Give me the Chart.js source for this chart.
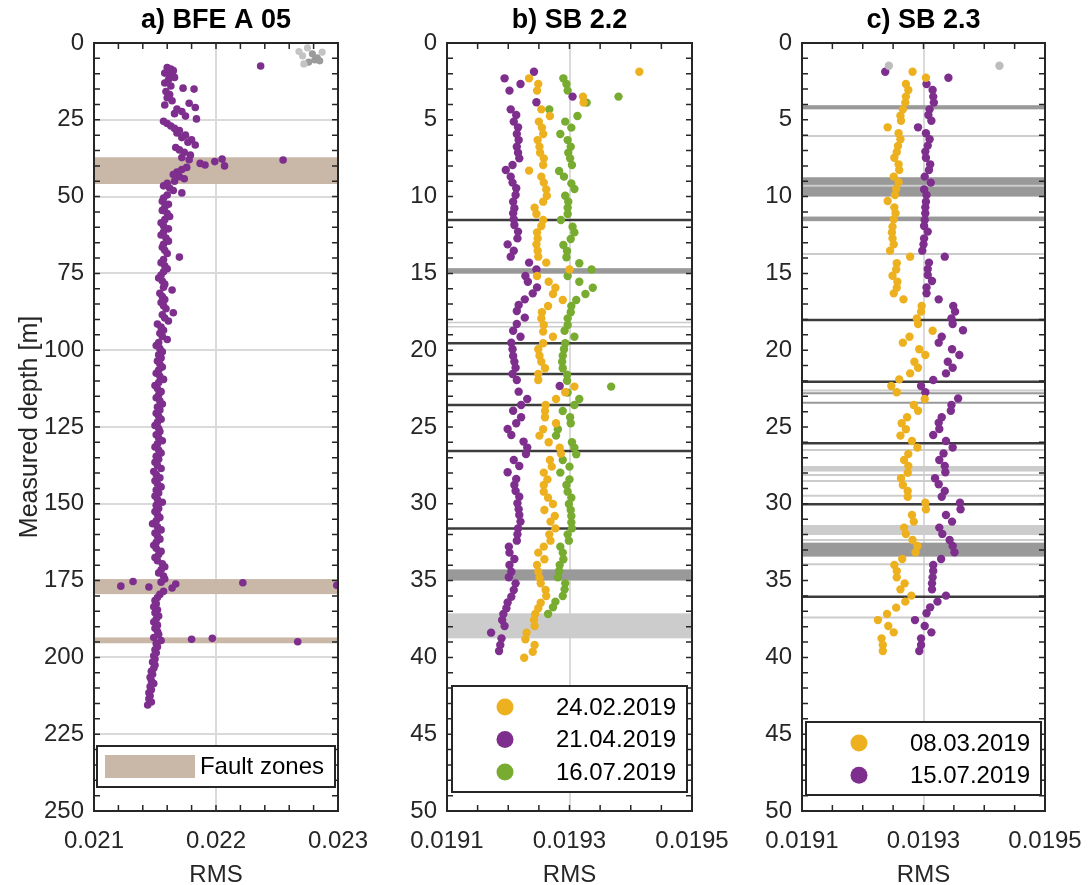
<!DOCTYPE html>
<html>
<head>
<meta charset="utf-8">
<title>RMS vs measured depth</title>
<script src="https://cdn.jsdelivr.net/npm/chart.js@4.4.1/dist/chart.umd.min.js"></script>
<style>
  html, body { margin: 0; padding: 0; background: #fff; }
  #wrap { position: relative; width: 1089px; height: 885px; }
  #wrap canvas { position: absolute; left: 0; top: 0; }
</style>
</head>
<body>
<div id="wrap">
  <canvas id="panelA" width="1089" height="885"></canvas>
  <canvas id="panelB" width="1089" height="885"></canvas>
  <canvas id="panelC" width="1089" height="885"></canvas>
</div>
<script>
// ---- data: [measured depth (m), RMS] ----
const bfeA05 = [
  [7.5,0.022366],[8.0,0.02160],[8.5,0.02163],[9.0,0.02165],[9.8,0.02158],[10.5,0.02162],[11.2,0.02166],[12.0,0.02161],
  [13.0,0.02158],[14.0,0.02163],[14.7,0.02173],[15.0,0.02182],[15.8,0.02159],[16.8,0.02162],[17.8,0.02160],[18.8,0.02164],
  [19.6,0.02178],[20.2,0.02158],[21.0,0.02183],[21.5,0.02168],[22.3,0.02172],[23.0,0.02166],[23.8,0.02175],[24.7,0.02184],
  [25.5,0.02157],[26.2,0.02160],[27.0,0.02163],[27.8,0.02166],[28.5,0.02170],[29.3,0.02168],[30.0,0.02175],[30.8,0.02172],
  [31.5,0.02180],[32.3,0.02177],[33.2,0.02183],[34.0,0.02167],[34.8,0.02170],[35.6,0.02174],[36.5,0.02179],[37.3,0.02172],
  [37.8,0.02205],[38.0,0.02178],[38.1,0.02255],[38.6,0.02199],[39.2,0.02187],[39.7,0.02191],[40.0,0.02207],[40.5,0.02176],
  [41.2,0.02172],[42.0,0.02168],[42.8,0.02165],[43.5,0.02170],[44.2,0.02174],[45.0,0.02166],[45.7,0.02160],[46.5,0.02157],
  [47.2,0.02162],[48.0,0.02165],[48.8,0.02172],[49.5,0.02160],[50.5,0.02157],[51.5,0.02156],[52.5,0.02161],[53.5,0.02158],
  [54.5,0.02156],[55.5,0.02160],[56.5,0.02162],[57.5,0.02158],[58.5,0.02155],[59.5,0.02157],[60.5,0.02161],[61.5,0.02157],
  [62.5,0.02155],[63.5,0.02159],[64.5,0.02161],[65.5,0.02157],[66.5,0.02156],[67.5,0.02158],[68.5,0.02160],[69.7,0.02170],
  [70.5,0.02157],[71.5,0.02155],[72.5,0.02158],[73.5,0.02160],[74.5,0.02157],[75.5,0.02155],[76.5,0.02153],[77.5,0.02156],
  [78.5,0.02158],[79.5,0.02157],[80.4,0.02164],[81.5,0.02154],[82.5,0.02156],[83.5,0.02158],[84.5,0.02155],[85.5,0.02157],
  [86.5,0.02159],[87.8,0.02165],[88.5,0.02156],[89.5,0.02158],[90.5,0.02161],[91.5,0.02152],[92.5,0.02155],[93.5,0.02157],
  [94.5,0.02154],[95.5,0.02156],[96.5,0.02160],[97.5,0.02153],[98.5,0.02151],[99.5,0.02154],[100.5,0.02156],[101.5,0.02153],
  [102.5,0.02155],[103.5,0.02152],[104.5,0.02154],[105.5,0.02156],[106.5,0.02153],[107.5,0.02151],[108.5,0.02154],[109.5,0.02157],
  [110.5,0.02153],[111.5,0.02150],[112.5,0.02152],[113.5,0.02155],[114.5,0.02153],[115.5,0.02151],[116.5,0.02154],[117.5,0.02156],
  [118.5,0.02152],[119.5,0.02154],[120.5,0.02151],[121.5,0.02153],[122.5,0.02155],[123.5,0.02152],[124.5,0.02150],[125.5,0.02153],
  [126.5,0.02154],[127.5,0.02151],[128.5,0.02153],[129.5,0.02156],[130.5,0.02152],[131.5,0.02150],[132.5,0.02153],[133.5,0.02155],
  [134.5,0.02151],[135.5,0.02153],[136.5,0.02150],[137.5,0.02152],[138.5,0.02155],[139.5,0.02149],[140.5,0.02151],[141.5,0.02154],
  [142.5,0.02150],[143.5,0.02152],[144.5,0.02155],[145.5,0.02151],[146.5,0.02153],[147.5,0.02150],[148.5,0.02152],[149.5,0.02156],
  [150.5,0.02151],[151.5,0.02153],[152.5,0.02150],[153.5,0.02152],[154.5,0.02154],[155.5,0.02151],[156.5,0.02148],[157.5,0.02152],
  [158.5,0.02155],[159.5,0.02150],[160.5,0.02152],[161.5,0.02154],[162.5,0.02151],[163.5,0.02149],[164.5,0.02151],[165.5,0.02155],
  [166.5,0.02153],[167.5,0.02150],[168.5,0.02152],[169.5,0.02156],[170.5,0.02158],[171.5,0.02155],[172.5,0.02153],[173.5,0.02157],
  [174.5,0.02158],[175.3,0.02132],[175.5,0.02155],[175.7,0.02222],[176.1,0.02167],[176.5,0.02299],[176.8,0.02122],[177.1,0.02145],
  [177.4,0.02164],[178.5,0.02157],[179.5,0.02154],[180.5,0.02152],[181.5,0.02150],[182.5,0.02151],[183.5,0.02149],[184.5,0.02152],
  [185.5,0.02150],[186.5,0.02153],[187.5,0.02151],[188.5,0.02149],[189.5,0.02152],[190.5,0.02150],[191.5,0.02152],[192.5,0.02153],
  [193.5,0.02149],[193.8,0.02197],[194.1,0.02180],[194.5,0.02155],[194.9,0.02267],[195.5,0.02151],[196.5,0.02152],[197.5,0.02150],
  [198.5,0.02151],[199.5,0.02149],[200.5,0.02150],[201.5,0.02148],[202.5,0.02150],[203.5,0.02149],[204.5,0.02147],[205.5,0.02148],
  [206.5,0.02146],[207.5,0.02147],[208.5,0.02149],[209.5,0.02146],[210.5,0.02147],[211.5,0.02145],[212.5,0.02146],[213.5,0.02145],
  [214.5,0.02147],[215.5,0.02144]
];
const bfeA05GreyLight = [[1.6,0.02275],[2.8,0.02268],[3.0,0.02287],[6.8,0.02272],[4.2,0.02271]];
const bfeA05GreyDark = [[3.5,0.02279],[4.8,0.02283],[5.5,0.02281],[5.8,0.02285],[6.2,0.02276]];

const sb22Feb = [
  [1.87,0.019414],[2.30,0.019234],[2.67,0.019249],[3.10,0.019247],[3.49,0.019322],[3.88,0.019323],[4.32,0.019254],[4.75,0.019268],
  [5.12,0.019250],[5.51,0.019255],[5.92,0.019257],[6.32,0.019248],[6.75,0.019251],[7.14,0.019252],[7.51,0.019258],[7.94,0.019257],
  [8.31,0.019234],[8.70,0.019254],[9.09,0.019258],[9.53,0.019262],[9.94,0.019263],[10.33,0.019257],[10.72,0.019243],[11.13,0.019246],
  [11.52,0.019257],[11.91,0.019254],[12.33,0.019247],[12.72,0.019248],[13.11,0.019246],[13.52,0.019248],[13.91,0.019249],[14.30,0.019262],
  [14.74,0.019300],[15.17,0.019247],[15.54,0.019266],[15.93,0.019277],[16.34,0.019273],[16.73,0.019289],[17.12,0.019265],[17.53,0.019255],
  [17.93,0.019254],[18.36,0.019258],[18.79,0.019257],[19.12,0.019273],[19.55,0.019257],[19.94,0.019249],[20.36,0.019251],[20.75,0.019254],
  [21.18,0.019260],[21.55,0.019249],[21.94,0.019249],[22.37,0.019308],[22.74,0.019293],[23.18,0.019278],[23.57,0.019261],[23.96,0.019260],
  [24.37,0.019260],[24.76,0.019278],[25.15,0.019257],[25.56,0.019251],[25.99,0.019266],[26.35,0.019284],[26.72,0.019286],[27.15,0.019268],
  [27.58,0.019271],[27.97,0.019258],[28.41,0.019264],[28.78,0.019258],[29.21,0.019258],[29.60,0.019265],[30.01,0.019273],[30.40,0.019259],
  [30.79,0.019276],[31.16,0.019269],[31.60,0.019277],[31.99,0.019267],[32.40,0.019269],[32.79,0.019258],[33.18,0.019249],[33.61,0.019259],
  [33.98,0.019247],[34.42,0.019249],[34.81,0.019251],[35.18,0.019253],[35.61,0.019261],[36.00,0.019262],[36.44,0.019253],[36.80,0.019249],
  [37.17,0.019244],[37.57,0.019242],[37.96,0.019243],[38.39,0.019230],[38.82,0.019228],[39.19,0.019243],[39.63,0.019240],[40.02,0.019226]
];
const sb22Apr = [
  [1.87,0.019242],[2.30,0.019194],[2.67,0.019220],[3.10,0.019202],[3.49,0.019305],[3.86,0.019246],[4.32,0.019204],[4.69,0.019213],
  [5.12,0.019209],[5.49,0.019216],[5.92,0.019214],[6.32,0.019217],[6.75,0.019214],[7.14,0.019216],[7.51,0.019218],[7.94,0.019207],
  [8.27,0.019196],[8.70,0.019204],[9.09,0.019207],[9.46,0.019213],[9.90,0.019212],[10.33,0.019208],[10.76,0.019210],[11.09,0.019208],
  [11.48,0.019209],[11.85,0.019210],[12.28,0.019216],[12.72,0.019215],[13.11,0.019199],[13.52,0.019209],[13.91,0.019204],[14.30,0.019234],
  [14.74,0.019246],[15.17,0.019228],[15.54,0.019232],[15.91,0.019247],[16.30,0.019240],[16.69,0.019227],[17.06,0.019217],[17.45,0.019214],
  [17.88,0.019227],[18.29,0.019214],[18.73,0.019208],[19.12,0.019220],[19.51,0.019205],[19.94,0.019207],[20.38,0.019208],[20.75,0.019210],
  [21.14,0.019212],[21.55,0.019207],[21.94,0.019214],[22.33,0.019284],[22.70,0.019217],[23.18,0.019231],[23.57,0.019221],[23.94,0.019208],
  [24.37,0.019221],[24.76,0.019213],[25.13,0.019199],[25.52,0.019205],[25.95,0.019225],[26.34,0.019231],[26.76,0.019229],[27.15,0.019209],
  [27.54,0.019218],[27.95,0.019199],[28.39,0.019213],[28.78,0.019210],[29.17,0.019212],[29.54,0.019218],[29.97,0.019215],[30.36,0.019217],
  [30.73,0.019218],[31.16,0.019220],[31.60,0.019216],[31.99,0.019215],[32.40,0.019214],[32.79,0.019201],[33.18,0.019202],[33.59,0.019210],
  [33.98,0.019202],[34.42,0.019205],[34.78,0.019201],[35.18,0.019212],[35.61,0.019209],[36.05,0.019205],[36.43,0.019199],[36.80,0.019197],
  [37.17,0.019192],[37.57,0.019190],[37.96,0.019194],[38.39,0.019172],[38.76,0.019189],[39.19,0.019187],[39.58,0.019185]
];
const sb22Jul = [
  [2.30,0.019290],[2.67,0.019295],[3.10,0.019297],[3.49,0.019380],[3.88,0.019328],[4.32,0.019267],[4.75,0.019313],[5.12,0.019293],
  [5.51,0.019303],[5.92,0.019285],[6.32,0.019297],[6.75,0.019302],[7.14,0.019298],[7.51,0.019301],[7.94,0.019304],[8.33,0.019283],
  [8.70,0.019291],[9.14,0.019303],[9.51,0.019308],[9.94,0.019293],[10.33,0.019298],[10.72,0.019297],[11.13,0.019297],[11.52,0.019286],
  [11.96,0.019305],[12.33,0.019308],[12.76,0.019302],[13.15,0.019290],[13.54,0.019296],[13.95,0.019295],[14.34,0.019316],[14.74,0.019336],
  [15.17,0.019297],[15.54,0.019316],[15.93,0.019338],[16.34,0.019326],[16.73,0.019311],[17.12,0.019303],[17.53,0.019302],[17.93,0.019297],
  [18.36,0.019297],[18.73,0.019292],[19.12,0.019308],[19.55,0.019293],[19.94,0.019291],[20.36,0.019289],[20.75,0.019288],[21.18,0.019289],
  [21.60,0.019296],[21.99,0.019296],[22.37,0.019368],[22.76,0.019297],[23.18,0.019316],[23.57,0.019308],[23.96,0.019289],[24.37,0.019301],
  [24.76,0.019302],[25.15,0.019281],[25.56,0.019278],[25.99,0.019304],[26.35,0.019308],[26.78,0.019311],[27.15,0.019289],[27.58,0.019300],
  [27.97,0.019285],[28.41,0.019300],[28.78,0.019295],[29.21,0.019297],[29.60,0.019303],[30.01,0.019299],[30.40,0.019302],[30.79,0.019303],
  [31.21,0.019303],[31.60,0.019304],[31.99,0.019297],[32.40,0.019299],[32.79,0.019285],[33.18,0.019289],[33.61,0.019290],[33.98,0.019284],
  [34.38,0.019283],[34.79,0.019281],[35.18,0.019293],[35.57,0.019292],[36.00,0.019289],[36.37,0.019277],[36.74,0.019273],[37.17,0.019265]
];
const sb23Mar = [
  [1.87,0.019282],[2.26,0.019304],[2.67,0.019271],[3.06,0.019275],[3.49,0.019271],[3.88,0.019270],[4.32,0.019266],[4.73,0.019262],
  [5.06,0.019263],[5.49,0.019241],[5.88,0.019259],[6.27,0.019262],[6.71,0.019258],[7.10,0.019256],[7.47,0.019252],[7.90,0.019259],
  [8.27,0.019260],[8.70,0.019251],[9.07,0.019259],[9.51,0.019255],[9.90,0.019253],[10.29,0.019241],[10.70,0.019252],[11.09,0.019254],
  [11.48,0.019251],[11.96,0.019249],[12.33,0.019248],[12.72,0.019249],[13.11,0.019251],[13.52,0.019245],[13.91,0.019278],[14.34,0.019256],
  [14.74,0.019255],[15.15,0.019249],[15.54,0.019257],[15.93,0.019256],[16.30,0.019251],[16.69,0.019267],[17.12,0.019297],[17.49,0.019296],
  [17.93,0.019289],[18.29,0.019291],[18.73,0.019315],[19.12,0.019277],[19.51,0.019266],[19.94,0.019293],[20.31,0.019303],[20.75,0.019285],
  [21.14,0.019291],[21.51,0.019278],[21.90,0.019260],[22.33,0.019247],[22.74,0.019256],[23.18,0.019302],[23.57,0.019284],[23.94,0.019291],
  [24.37,0.019273],[24.76,0.019264],[25.15,0.019271],[25.56,0.019262],[25.91,0.019281],[26.34,0.019290],[26.76,0.019275],[27.15,0.019268],
  [27.54,0.019275],[27.98,0.019274],[28.34,0.019263],[28.78,0.019266],[29.17,0.019274],[29.54,0.019274],[29.93,0.019303],[30.36,0.019304],
  [30.73,0.019281],[31.16,0.019284],[31.55,0.019268],[31.96,0.019271],[32.36,0.019282],[32.75,0.019290],[33.16,0.019287],[33.59,0.019265],
  [33.98,0.019252],[34.38,0.019256],[34.79,0.019256],[35.18,0.019269],[35.57,0.019262],[35.98,0.019280],[36.37,0.019270],[36.76,0.019255],
  [37.17,0.019240],[37.57,0.019225],[37.96,0.019242],[38.37,0.019251],[38.76,0.019231],[39.19,0.019233],[39.58,0.019233]
];
const sb23Jul = [
  [1.87,0.019237],[2.26,0.019341],[2.67,0.019305],[3.06,0.019315],[3.49,0.019316],[3.88,0.019317],[4.32,0.019310],[4.69,0.019308],
  [5.06,0.019313],[5.49,0.019291],[5.88,0.019304],[6.27,0.019310],[6.68,0.019307],[7.07,0.019303],[7.47,0.019304],[7.90,0.019311],
  [8.27,0.019309],[8.70,0.019302],[9.09,0.019312],[9.53,0.019301],[9.90,0.019305],[10.33,0.019304],[10.70,0.019303],[11.09,0.019303],
  [11.52,0.019302],[11.91,0.019301],[12.28,0.019307],[12.72,0.019301],[13.11,0.019300],[13.52,0.019298],[13.91,0.019335],[14.30,0.019309],
  [14.71,0.019307],[15.10,0.019307],[15.49,0.019314],[15.91,0.019305],[16.30,0.019305],[16.69,0.019325],[17.12,0.019349],[17.49,0.019352],
  [17.93,0.019346],[18.29,0.019348],[18.70,0.019365],[19.12,0.019330],[19.51,0.019325],[19.94,0.019347],[20.31,0.019359],[20.75,0.019340],
  [21.14,0.019348],[21.51,0.019337],[21.94,0.019316],[22.33,0.019296],[22.74,0.019303],[23.14,0.019357],[23.57,0.019346],[23.94,0.019345],
  [24.37,0.019330],[24.72,0.019325],[25.13,0.019326],[25.52,0.019316],[25.91,0.019337],[26.34,0.019348],[26.72,0.019333],[27.15,0.019326],
  [27.54,0.019335],[27.95,0.019336],[28.34,0.019319],[28.73,0.019325],[29.17,0.019335],[29.54,0.019330],[29.93,0.019360],[30.36,0.019361],
  [30.73,0.019337],[31.16,0.019347],[31.55,0.019326],[31.96,0.019331],[32.36,0.019343],[32.75,0.019348],[33.16,0.019351],[33.59,0.019329],
  [33.98,0.019316],[34.38,0.019316],[34.79,0.019315],[35.18,0.019314],[35.57,0.019314],[35.98,0.019337],[36.37,0.019323],[36.74,0.019311],
  [37.13,0.019305],[37.57,0.019286],[37.96,0.019302],[38.37,0.019313],[38.76,0.019296],[39.19,0.019296],[39.58,0.019293]
];
const sb23Grey = [[1.48,0.019243],[1.48,0.019425]];

// depth intervals / marker depths (m)
const faultZonesA = [[37.2, 45.9], [174.5, 179.4], [193.5, 195.4]];
const sb22DarkLines = [11.52, 19.55, 21.55, 23.57, 26.56, 31.6];
const sb22MidBands = [[14.66, 15.02], [34.27, 35.0]];
const sb22LightBands = [[37.13, 38.76]];
const sb22LightLines = [18.2, 18.47];
const sb23DarkLines = [18.03, 22.05, 26.06, 30.03, 36.05];
const sb23MidBands = [[4.05, 4.32], [8.74, 10.0], [11.3, 11.6], [32.53, 33.44]];
const sb23MidLines = [22.8, 23.42];
const sb23LightBands = [[27.54, 27.9], [31.38, 32.03]];
const sb23LightLines = [6.05, 9.3, 13.74, 22.62, 26.5, 28.12, 28.52, 29.47, 32.36, 33.94, 37.41];

// tick labels
const depthTicksA = [0, 25, 50, 75, 100, 125, 150, 175, 200, 225, 250];
const depthTicksSB = [0, 5, 10, 15, 20, 25, 30, 35, 40, 45, 50];
const rmsTicksA = ['0.021', '0.022', '0.023'];
const rmsTicksSB = ['0.0191', '0.0193', '0.0195'];

const FONT = '"Liberation Sans", Arial, Helvetica, sans-serif';
const INK = '#262626';
const PURPLE = '#7E2F8E', ORANGE = '#EDB120', GREEN = '#77AC30';
const DARK = '#3c3c3c', MID = '#999999', LIGHT = '#cccccc', FAULT = '#C9B7A7';

const toXY = arr => arr.map(([d, r]) => ({ x: r, y: d }));

// bands, inward ticks, box and in-axes legend
const panelDecor = {
  id: 'panelDecor',
  beforeDatasetsDraw(chart, args, opts) {
    const { ctx, chartArea: a, scales: { y } } = chart;
    ctx.save();
    ctx.beginPath();
    ctx.rect(a.left, a.top, a.width, a.height);
    ctx.clip();
    (opts.layers || []).forEach(layer => {
      if (layer.ranges) {
        ctx.fillStyle = layer.color;
        layer.ranges.forEach(([d1, d2]) => {
          const y1 = y.getPixelForValue(d1), y2 = y.getPixelForValue(d2);
          ctx.fillRect(a.left, y1, a.width, y2 - y1);
        });
      } else {
        ctx.strokeStyle = layer.color;
        ctx.lineWidth = layer.width;
        layer.depths.forEach(d => {
          const py = y.getPixelForValue(d);
          ctx.beginPath();
          ctx.moveTo(a.left, py);
          ctx.lineTo(a.right, py);
          ctx.stroke();
        });
      }
    });
    ctx.restore();
  },
  afterDraw(chart, args, opts) {
    const { ctx, chartArea: a, scales: { x, y } } = chart;
    const len = 6;
    ctx.save();
    ctx.strokeStyle = INK;
    ctx.lineWidth = 1.5;
    const nx = Math.round((x.max - x.min) / opts.xMinor);
    for (let i = 1; i < nx; i++) {
      const px = x.getPixelForValue(x.min + i * opts.xMinor);
      ctx.beginPath();
      ctx.moveTo(px, a.bottom); ctx.lineTo(px, a.bottom - len);
      ctx.moveTo(px, a.top); ctx.lineTo(px, a.top + len);
      ctx.stroke();
    }
    const ny = Math.round((y.max - y.min) / opts.yMinor);
    for (let i = 1; i < ny; i++) {
      const py = y.getPixelForValue(y.min + i * opts.yMinor);
      ctx.beginPath();
      ctx.moveTo(a.left, py); ctx.lineTo(a.left + len, py);
      ctx.moveTo(a.right, py); ctx.lineTo(a.right - len, py);
      ctx.stroke();
    }
    ctx.lineWidth = 2;
    ctx.strokeRect(a.left, a.top, a.width, a.height);

    const lg = opts.legend;
    if (lg) {
      const bx = a.left + lg.inset, bw = a.width - 2 * lg.inset;
      const by = a.bottom - lg.bottom - lg.height;
      ctx.fillStyle = '#fff';
      ctx.fillRect(bx, by, bw, lg.height);
      ctx.strokeStyle = INK;
      ctx.lineWidth = 2;
      ctx.strokeRect(bx, by, bw, lg.height);
      ctx.font = '24px ' + FONT;
      ctx.textAlign = 'right';
      ctx.textBaseline = 'middle';
      lg.items.forEach((it, i) => {
        const cy = by + lg.firstRow + i * lg.rowGap;
        let label = it.label, color = it.color;
        if (it.datasetIndex !== undefined) {
          const ds = chart.data.datasets[it.datasetIndex];
          label = ds.label; color = ds.backgroundColor;
        }
        ctx.fillStyle = color;
        if (it.swatch) {
          ctx.fillRect(bx + 53 - 45, cy - 11.5, 90, 23);
        } else {
          ctx.beginPath();
          ctx.arc(bx + 53, cy, 8.5, 0, Math.PI * 2);
          ctx.fill();
        }
        ctx.fillStyle = '#000';
        ctx.fillText(label, bx + bw - 11, cy + 1);
      });
    }
    ctx.restore();
  }
};
Chart.register(panelDecor);

function makePanel(id, p) {
  return new Chart(document.getElementById(id), {
    type: 'scatter',
    data: { datasets: p.datasets },
    options: {
      responsive: false,
      animation: false,
      devicePixelRatio: 1,
      layout: { padding: { left: p.padLeft, right: p.padRight, top: 0, bottom: 0 } },
      elements: { point: { borderWidth: 0, hoverRadius: p.radius } },
      plugins: {
        legend: { display: false },
        tooltip: { enabled: false },
        title: {
          display: true, text: p.title, fullSize: false, color: '#000',
          font: { family: FONT, size: 27, weight: 'bold' },
          padding: { top: 4, bottom: 6.6 }
        },
        panelDecor: p.decor
      },
      scales: {
        x: {
          type: 'linear', position: 'bottom',
          min: p.xMin, max: p.xMax,
          afterBuildTicks: s => { s.ticks = p.xLabels.map(t => ({ value: parseFloat(t) })); },
          afterFit: s => { s.height = 74; },
          ticks: {
            callback: (v, i) => p.xLabels[i],
            color: INK, font: { family: FONT, size: 24 }, padding: 0,
            maxRotation: 0, autoSkip: false
          },
          // invisible outward tick marks only push the labels down
          grid: { color: '#dadada', lineWidth: 2, drawTicks: true, tickLength: 16, tickColor: 'rgba(0,0,0,0)' },
          border: { display: false },
          title: { display: true, text: 'RMS', color: INK, font: { family: FONT, size: 24, lineHeight: 1 }, padding: { top: 0, bottom: -2 } }
        },
        y: {
          type: 'linear', reverse: true,
          min: p.yTicks[0], max: p.yTicks[p.yTicks.length - 1],
          afterBuildTicks: s => { s.ticks = p.yTicks.map(v => ({ value: v })); },
          afterFit: s => { s.width = p.yWidth; },
          ticks: { color: INK, font: { family: FONT, size: 24 }, padding: 10, autoSkip: false },
          grid: { display: p.yGrid, color: '#dadada', lineWidth: 2, drawTicks: false },
          border: { display: false },
          title: {
            display: !!p.yTitle, text: p.yTitle || '', color: INK,
            font: { family: FONT, size: 25 }, padding: { top: 15, bottom: 0 }
          }
        }
      }
    }
  });
}

makePanel('panelA', {
  title: 'a) BFE A 05',
  padLeft: 0, padRight: 751, yWidth: 94, yGrid: true, yTitle: 'Measured depth [m]',
  xMin: 0.021, xMax: 0.023, xLabels: rmsTicksA, yTicks: depthTicksA, radius: 3.8,
  datasets: [
    { label: 'grey light', data: toXY(bfeA05GreyLight), backgroundColor: '#c4c4c4', pointRadius: 3.6 },
    { label: 'grey dark', data: toXY(bfeA05GreyDark), backgroundColor: '#9b9b9b', pointRadius: 3.6 },
    { label: 'BFE A 05', data: toXY(bfeA05), backgroundColor: PURPLE, pointRadius: 3.8 }
  ],
  decor: {
    xMinor: 0.0002, yMinor: 5,
    layers: [{ ranges: faultZonesA, color: FAULT }],
    legend: { inset: 3, bottom: 24, height: 41, firstRow: 20.5, rowGap: 0,
      items: [{ swatch: true, label: 'Fault zones', color: FAULT }] }
  }
});

makePanel('panelB', {
  title: 'b) SB 2.2',
  padLeft: 387, padRight: 397, yWidth: 60, yGrid: false,
  xMin: 0.0191, xMax: 0.0195, xLabels: rmsTicksSB, yTicks: depthTicksSB, radius: 4.2,
  datasets: [
    { label: '24.02.2019', data: toXY(sb22Feb), backgroundColor: ORANGE, pointRadius: 4.2 },
    { label: '21.04.2019', data: toXY(sb22Apr), backgroundColor: PURPLE, pointRadius: 4.2 },
    { label: '16.07.2019', data: toXY(sb22Jul), backgroundColor: GREEN, pointRadius: 4.2 }
  ],
  decor: {
    xMinor: 0.00005, yMinor: 1,
    layers: [
      { ranges: sb22MidBands, color: MID },
      { ranges: sb22LightBands, color: LIGHT },
      { depths: sb22LightLines, color: LIGHT, width: 1.5 },
      { depths: sb22DarkLines, color: DARK, width: 2.5 }
    ],
    legend: { inset: 5, bottom: 19, height: 106, firstRow: 21, rowGap: 32.5,
      items: [{ datasetIndex: 0 }, { datasetIndex: 1 }, { datasetIndex: 2 }] }
  }
});

makePanel('panelC', {
  title: 'c) SB 2.3',
  padLeft: 742, padRight: 44, yWidth: 60, yGrid: false,
  xMin: 0.0191, xMax: 0.0195, xLabels: rmsTicksSB, yTicks: depthTicksSB, radius: 4.2,
  datasets: [
    { label: 'grey', data: toXY(sb23Grey), backgroundColor: '#bdbdbd', pointRadius: 4.2 },
    { label: '08.03.2019', data: toXY(sb23Mar), backgroundColor: ORANGE, pointRadius: 4.2 },
    { label: '15.07.2019', data: toXY(sb23Jul), backgroundColor: PURPLE, pointRadius: 4.2 }
  ],
  decor: {
    xMinor: 0.00005, yMinor: 1,
    layers: [
      { ranges: sb23MidBands, color: MID },
      { depths: sb23MidLines, color: MID, width: 2 },
      { ranges: sb23LightBands, color: LIGHT },
      { depths: sb23LightLines, color: LIGHT, width: 2 },
      { depths: sb23DarkLines, color: DARK, width: 2.5 }
    ],
    legend: { inset: 4, bottom: 16, height: 73, firstRow: 21, rowGap: 32.3,
      items: [{ datasetIndex: 1 }, { datasetIndex: 2 }] }
  }
});
</script>
</body>
</html>
